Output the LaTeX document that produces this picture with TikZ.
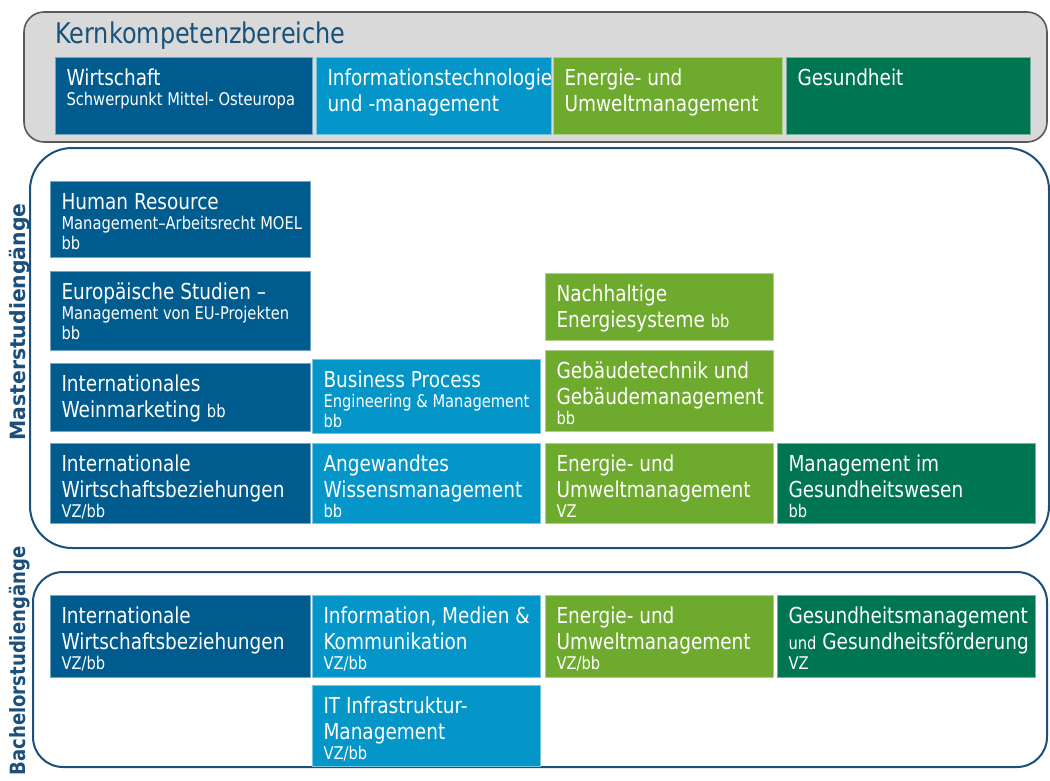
\documentclass[tikz,border=0pt]{standalone}
\usepackage{fontspec}
\setmainfont{DejaVu Sans}[FakeStretch=0.84]
\newfontfamily\labelfont{DejaVu Sans}[FakeStretch=0.97]
\newfontfamily\labelfontb{DejaVu Sans}[FakeStretch=0.86]
\definecolor{dblue}{HTML}{005B8E}
\definecolor{lblue}{HTML}{0596C9}
\definecolor{lgreen}{HTML}{6EAA2E}
\definecolor{dgreen}{HTML}{007552}
\definecolor{framecol}{HTML}{1B4F7C}
\definecolor{titleblue}{HTML}{17527A}
\definecolor{panelgray}{HTML}{D9D9D9}
\definecolor{panelline}{HTML}{595959}
\newcommand\sm{\fontsize{17.5}{20}\selectfont}
\tikzset{
  pbox/.style={rectangle, inner sep=0pt, outer sep=0pt, line width=0.8pt},
  ptext/.style={inner sep=0pt, outer sep=0pt, text=white, align=left,
    font=\fontsize{22}{26}\selectfont},
  frameline/.style={draw=framecol, line width=2pt},
  vlabel/.style={rotate=90, text=framecol, inner sep=0pt}
}
\newcommand\pbox[7]{%
  \node[pbox, fill=#2, draw=#2!55!white, minimum width={#5-#3}, minimum height={#6-#4},
    anchor=north west] (#1) at (#3,#4) {};
  \node[ptext, anchor=north west] (#1-t) at ([xshift=11.5pt, yshift=-10pt]#1.north west)
    {\rule{0pt}{18pt}#7};
}
\begin{document}
\begin{tikzpicture}[x=1pt, y=-1pt]
\useasboundingbox (0,0) rectangle (1050,780);
% panels
\draw[fill=panelgray, draw=panelline, line width=1.6pt, rounded corners=20] (24,12) rectangle (1047,142);
\node[anchor=base west, inner sep=0pt, text=titleblue, font=\fontsize{28.5}{32}\selectfont] (title) at (55,43) {Kernkompetenzbereiche};
\draw[frameline, rounded corners=42] (30,148) rectangle (1049,548);
\draw[frameline, rounded corners=30] (33,572) rectangle (1047,767);
\node[vlabel, font=\labelfont\bfseries\fontsize{21}{24}\selectfont] (mlabel) at (20,322) {Masterstudiengänge};
\node[vlabel, font=\labelfontb\bfseries\fontsize{21}{24}\selectfont] (blabel) at (20,661) {Bachelorstudiengänge};
% top row
\pbox{kw}{dblue}{55}{57}{312}{134}{Wirtschaft\\[-6pt]{\sm Schwerpunkt Mittel- Osteuropa}}
\pbox{ki}{lblue}{316}{57}{551}{134}{Informationstechnologie\\und -management}
\pbox{ke}{lgreen}{553}{57}{782}{134}{Energie- und\\Umweltmanagement}
\pbox{kg}{dgreen}{786}{57}{1030}{134}{Gesundheit}
% master
\pbox{m1}{dblue}{50}{181}{310}{257}{Human Resource\\[-6pt]{\sm Management–Arbeitsrecht MOEL}\\[-6pt]{\sm bb}}
\pbox{m2}{dblue}{50}{271}{310}{350}{Europäische Studien –\\[-6pt]{\sm Management von EU-Projekten}\\[-6pt]{\sm bb}}
\pbox{m3}{lgreen}{545}{273}{773}{340}{Nachhaltige\\Energiesysteme {\sm bb}}
\pbox{m4}{dblue}{50}{363}{310}{431}{Internationales\\Weinmarketing {\sm bb}}
\pbox{m5}{lblue}{312}{359}{540}{433}{Business Process\\[-6pt]{\sm Engineering \& Management}\\[-6pt]{\sm bb}}
\pbox{m6}{lgreen}{545}{350}{773}{431}{Gebäudetechnik und\\Gebäudemanagement\\[-6pt]{\sm bb}}
\pbox{m7}{dblue}{50}{443}{310}{523}{Internationale\\Wirtschaftsbeziehungen\\[-6pt]{\sm VZ/bb}}
\pbox{m8}{lblue}{312}{443}{540}{523}{Angewandtes\\Wissensmanagement\\[-6pt]{\sm bb}}
\pbox{m9}{lgreen}{545}{443}{773}{523}{Energie- und\\Umweltmanagement\\[-6pt]{\sm VZ}}
\pbox{m10}{dgreen}{777}{443}{1035}{523}{Management im\\Gesundheitswesen\\[-6pt]{\sm bb}}
% bachelor
\pbox{b1}{dblue}{50}{595}{310}{677}{Internationale\\Wirtschaftsbeziehungen\\[-6pt]{\sm VZ/bb}}
\pbox{b2}{lblue}{312}{595}{540}{677}{Information, Medien \&\\Kommunikation\\[-6pt]{\sm VZ/bb}}
\pbox{b3}{lgreen}{545}{595}{773}{677}{Energie- und\\Umweltmanagement\\[-6pt]{\sm VZ/bb}}
\pbox{b4}{dgreen}{777}{595}{1035}{677}{Gesundheitsmanagement\\{\sm und} Gesundheitsförderung\\[-6pt]{\sm VZ}}
\pbox{b5}{lblue}{312}{685}{540}{766}{IT Infrastruktur-\\Management\\[-6pt]{\sm VZ/bb}}
\end{tikzpicture}
\end{document}
